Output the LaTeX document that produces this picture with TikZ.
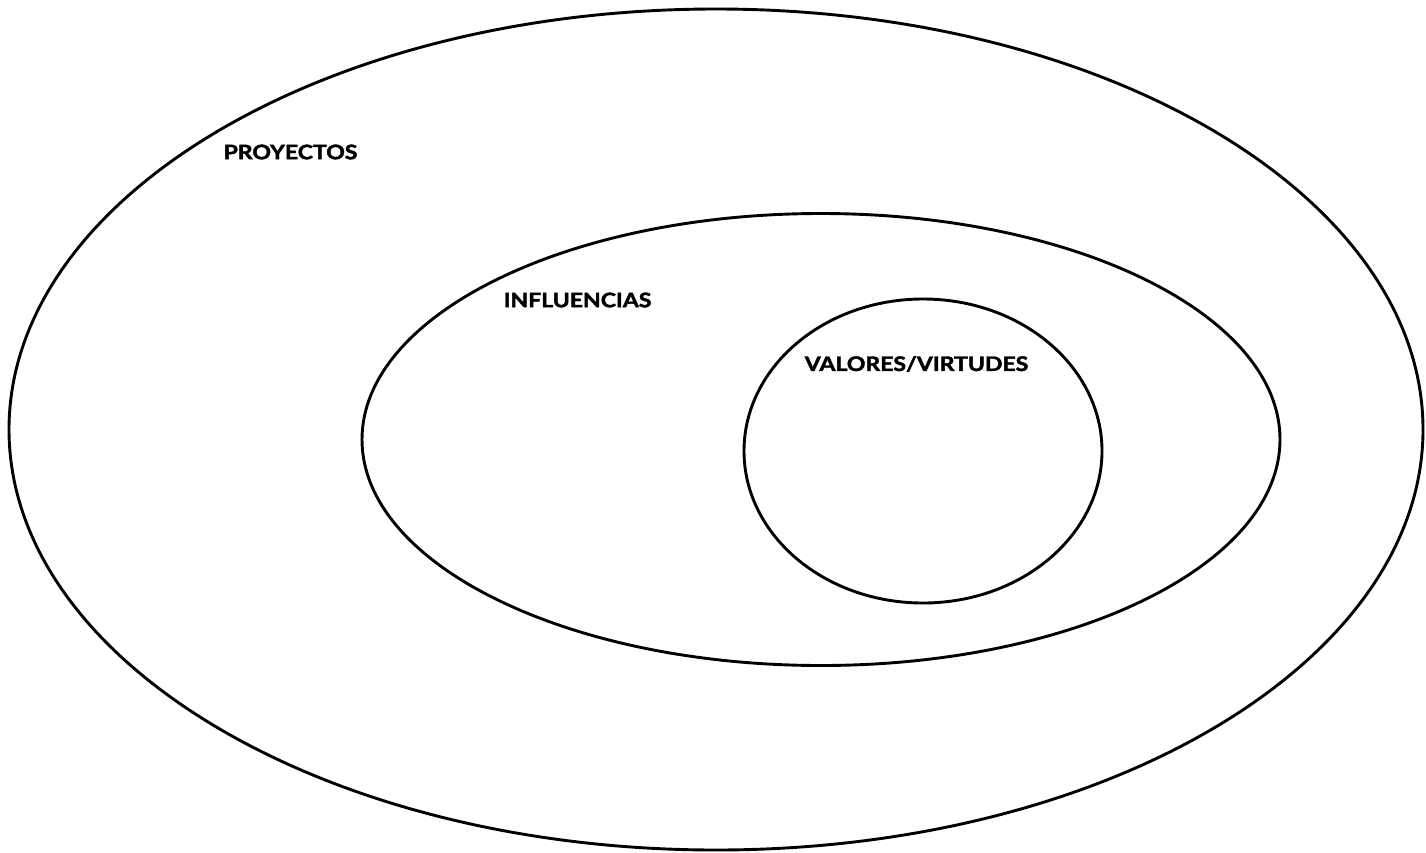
\documentclass[tikz,border=0pt]{standalone}
\usepackage{fontspec}
\setmainfont{Lato}[BoldFeatures={FakeBold=2}]
\newcommand{\widetxt}[1]{\scalebox{1.15}[1]{#1}}
\begin{document}
\begin{tikzpicture}[x=1pt,y=-1pt,
  ring/.style={draw=black,line width=2.9pt},
  lbl/.style={font=\fontsize{20}{24}\selectfont\bfseries, inner sep=0pt}]
\useasboundingbox (0,0) rectangle (1426,852);
\draw[ring] (716,429.5) ellipse [x radius=707, y radius=420.5];
\draw[ring] (821,439.5) ellipse [x radius=459, y radius=226];
\draw[ring] (923,451) ellipse [x radius=179, y radius=152];
\node[lbl] (p) at (290.5,152) {\widetxt{PROYECTOS}};
\node[lbl] (i) at (577.5,300) {\widetxt{INFLUENCIAS}};
\node[lbl] (v) at (916.5,364) {\widetxt{VALORES/VIRTUDES}};
\end{tikzpicture}
\end{document}
